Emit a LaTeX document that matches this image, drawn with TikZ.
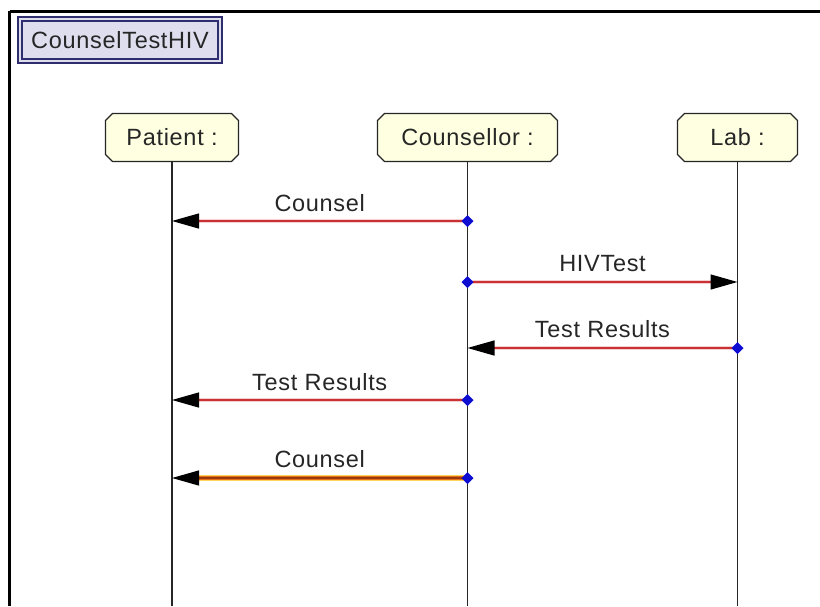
\documentclass[tikz,border=0pt]{standalone}
\usepackage{fontspec}
\setmainfont[LetterSpace=3]{Liberation Sans}
\usetikzlibrary{arrows.meta,shapes.misc,calc}

\definecolor{msgred}{HTML}{C83232}
\definecolor{msgpink}{HTML}{F6D0D0}
\definecolor{objfill}{HTML}{FFFFE2}
\definecolor{titlefill}{HTML}{DEDEEE}
\definecolor{titleedge}{HTML}{2E2E6E}
\definecolor{dotblue}{HTML}{0E0ED2}
\definecolor{hlyellow}{HTML}{FFD65A}
\definecolor{hlorange}{HTML}{E46E10}
\definecolor{hlbrown}{HTML}{9A3A14}

\begin{document}
\begin{tikzpicture}[x=1pt,y=-1pt,
  every node/.style={font=\fontsize{23.5}{27}\selectfont, text=black!85},
  framebar/.style={draw=black, line width=#1},
  titlebox/.style={rectangle, draw=titleedge, line width=1.8pt, double=titlefill,
    double distance=2.4pt, fill=titlefill, minimum width=200pt, minimum height=42pt,
    inner sep=0pt},
  objbox/.style={chamfered rectangle, chamfered rectangle xsep=3.5pt,
    chamfered rectangle ysep=3.5pt, draw=black!85, line width=1.3pt, fill=objfill,
    minimum height=48pt, inner sep=0pt},
  life/.style={draw=black!85, line width=1.4pt},
  glow/.style={draw=msgpink, line width=3.6pt},
  msg/.style={draw=msgred, line width=1.3pt,
    -{Triangle[length=27pt,width=15pt,color=black]}},
  msglabel/.style={inner sep=0pt},
  srcdot/.style={fill=dotblue},
  hlunder/.style={draw=hlyellow, line width=6pt},
  hlmid/.style={draw=hlorange, line width=3.4pt},
  hltop/.style={draw=hlbrown, line width=1.2pt,
    -{Triangle[length=27pt,width=15pt,color=black]}}
]
\useasboundingbox (0,0) rectangle (820,606);
\fill[white] (0,0) rectangle (820,606);

% outer frame of the interaction (top and left edges)
\coordinate (frTL) at (9.5,11);
\coordinate (frTR) at (820,11);
\coordinate (frBL) at (9.5,606);
\draw[framebar=3pt] (frTL) -- (frTR);
\draw[framebar=2.5pt] (frTL) -- (frBL);

% interaction name
\node[titlebox] (title) at (120,40) {CounselTestHIV};

% participants
\node[objbox, minimum width=133pt] (pat) at (172,137.5) {Patient :};
\node[objbox, minimum width=180pt] (cou) at (467.5,137.5) {Counsellor :};
\node[objbox, minimum width=120pt] (lab) at (737.5,137.5) {Lab :};

% lifelines
\coordinate (patEnd) at (pat.south |- 0,606);
\coordinate (couEnd) at (cou.south |- 0,606);
\coordinate (labEnd) at (lab.south |- 0,606);
\draw[life] (pat.south) -- (patEnd);
\draw[life] (cou.south) -- (couEnd);
\draw[life] (lab.south) -- (labEnd);

% message end points on the lifelines
\coordinate (c1) at (cou.south |- 0,221);  \coordinate (p1) at (pat.south |- 0,221);
\coordinate (c2) at (cou.south |- 0,282);  \coordinate (l2) at (lab.south |- 0,282);
\coordinate (l3) at (lab.south |- 0,348);  \coordinate (c3) at (cou.south |- 0,348);
\coordinate (c4) at (cou.south |- 0,400);  \coordinate (p4) at (pat.south |- 0,400);
\coordinate (c5) at (cou.south |- 0,478);  \coordinate (p5) at (pat.south |- 0,478);

% messages
\draw[glow, shorten >=22pt] (c1) -- (p1);
\draw[msg] (c1) -- (p1);
\draw[glow, shorten >=22pt] (c2) -- (l2);
\draw[msg] (c2) -- (l2);
\draw[glow, shorten >=22pt] (l3) -- (c3);
\draw[msg] (l3) -- (c3);
\draw[glow, shorten >=22pt] (c4) -- (p4);
\draw[msg] (c4) -- (p4);

% highlighted (selected) message
\draw[hlunder, shorten >=22pt, yshift=-1.4pt] (c5) -- (p5);
\draw[hlmid, shorten >=22pt] (c5) -- (p5);
\draw[hltop, yshift=1.4pt] (c5) -- (p5);

% source markers
\foreach \s in {c1,c2,l3,c4,c5}
  \fill[srcdot] (\s) +(-6,0) -- +(0,-6) -- +(6,0) -- +(0,6) -- cycle;

% message labels
\node[msglabel] (m1) at ($(c1)!0.5!(p1)+(0,-18)$) {Counsel};
\node[msglabel] (m2) at ($(c2)!0.5!(l2)+(0,-18)$) {HIVTest};
\node[msglabel] (m3) at ($(l3)!0.5!(c3)+(0,-19)$) {Test Results};
\node[msglabel] (m4) at ($(c4)!0.5!(p4)+(0,-18)$) {Test Results};
\node[msglabel] (m5) at ($(c5)!0.5!(p5)+(0,-19)$) {Counsel};
\end{tikzpicture}
\end{document}
